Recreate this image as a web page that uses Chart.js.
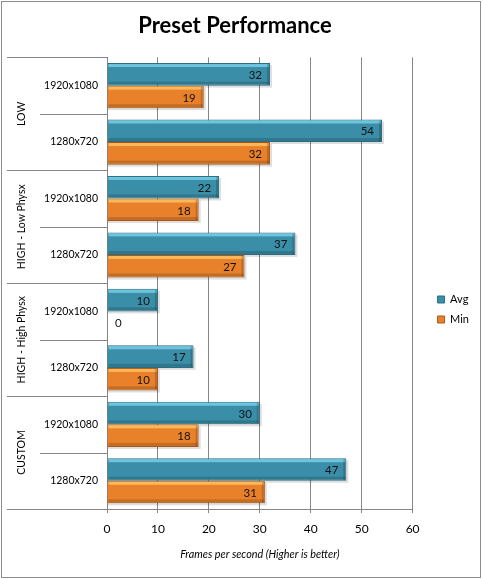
<!DOCTYPE html>
<html><head><meta charset="utf-8">
<script src="https://cdn.jsdelivr.net/npm/chart.js@4.4.1/dist/chart.umd.min.js"></script>
<style>html,body{margin:0;padding:0;background:#fff;}#wrap{position:relative;width:483px;height:579px;}</style>
</head><body><div id="wrap"><canvas id="c" width="483" height="579"></canvas></div>
<script>
const chartTitle = 'Preset Performance';
const axisTitle = 'Frames per second (Higher is better)';
const groups = ['LOW', 'HIGH - Low Physx', 'HIGH - High Physx', 'CUSTOM'];
const resolutions = ['1920x1080', '1280x720', '1920x1080', '1280x720', '1920x1080', '1280x720', '1920x1080', '1280x720'];
const avgValues = [32, 54, 22, 37, 10, 17, 30, 47];
const minValues = [19, 32, 18, 27, 0, 10, 18, 31];
const xTicks = [0, 10, 20, 30, 40, 50, 60];

const F = 'Lato, "Liberation Sans", sans-serif';
const LINE = '#868686';
const avgColor = '#3A8EA7', avgBorder = '#2B6F84', avgHi = 'rgba(120,205,230,0.85)';
const minColor = '#E9812A', minBorder = '#A9581A', minHi = 'rgba(252,190,95,0.9)';

const framePlugin = {
  id: 'frame',
  beforeDraw(chart) {
    const c = chart.ctx;
    c.save();
    c.fillStyle = '#fff';
    c.fillRect(0, 0, chart.width, chart.height);
    c.strokeStyle = '#8c8c8c';
    c.lineWidth = 1;
    c.strokeRect(1.5, 1.5, 479, 576);
    c.restore();
  }
};

const legendShift = {
  id: 'legendShift',
  afterLayout(chart) {
    const l = chart.legend;
    if (l) { l.left += 16; l.right += 16; l.top += 20; l.bottom += 20; }
  }
};

const barDeco = {
  id: 'barDeco',
  beforeDatasetsDraw(chart) {
    const c = chart.ctx;
    c.save();
    c.fillStyle = 'rgba(0,0,0,0.13)';
    chart.data.datasets.forEach((ds, di) => {
      chart.getDatasetMeta(di).data.forEach((bar) => {
        const p = bar.getProps(['x', 'y', 'base', 'height'], true);
        const w = p.x - p.base;
        if (w > 0) c.fillRect(p.base, p.y - p.height / 2 + 2, w + 2, p.height);
      });
    });
    c.restore();
  },
  afterDatasetsDraw(chart) {
    const c = chart.ctx;
    c.save();
    chart.data.datasets.forEach((ds, di) => {
      const hi = di === 0 ? avgHi : minHi;
      chart.getDatasetMeta(di).data.forEach((bar, i) => {
        const p = bar.getProps(['x', 'y', 'base', 'height'], true);
        const top = p.y - p.height / 2, w = p.x - p.base;
        if (w > 2) {
          c.fillStyle = hi;
          c.fillRect(p.base + 1, top + 1, w - 2, 3);
          c.fillStyle = 'rgba(0,0,0,0.16)';
          c.fillRect(p.base + 1, top + p.height - 4, w - 2, 3);
          c.fillStyle = 'rgba(0,0,0,0.18)';
          c.fillRect(p.x - 3, top + 1, 2, p.height - 2);
        }
        const v = ds.data[i];
        c.font = '11.5px ' + F;
        c.fillStyle = '#111';
        c.textBaseline = 'middle';
        if (w > 20) { c.textAlign = 'right'; c.fillText(String(v), p.x - 8, p.y + 1); }
        else { c.textAlign = 'left'; c.fillText(String(v), p.base + 8, p.y + 1); }
      });
    });
    c.restore();
  }
};

const groupPlugin = {
  id: 'groups',
  afterDraw(chart) {
    const c = chart.ctx, ys = chart.scales.y, left = chart.chartArea.left;
    const per = resolutions.length / groups.length;
    const step = ys.getPixelForValue(1) - ys.getPixelForValue(0);
    c.save();
    c.strokeStyle = LINE;
    c.lineWidth = 1;
    const hline = (y, x0) => { const yy = Math.round(y) + 0.5; c.beginPath(); c.moveTo(x0, yy); c.lineTo(left, yy); c.stroke(); };
    groups.forEach((g, gi) => {
      const top = ys.getPixelForValue(gi * per) - step / 2;
      hline(top, 7);
      for (let k = 1; k < per; k++) hline(top + step * k, 40);
      c.save();
      c.translate(22, top + step * per / 2);
      c.rotate(-Math.PI / 2);
      c.font = '10.5px ' + F;
      c.fillStyle = '#000';
      c.textAlign = 'center';
      c.textBaseline = 'middle';
      c.fillText(g, 0, 0);
      c.restore();
    });
    hline(ys.getPixelForValue(resolutions.length - 1) + step / 2, 7);
    c.restore();
  }
};

new Chart(document.getElementById('c'), {
  type: 'bar',
  data: {
    labels: resolutions,
    datasets: [
      { label: 'Avg', data: avgValues, backgroundColor: avgColor, borderColor: avgBorder, borderWidth: 1, borderSkipped: 'start' },
      { label: 'Min', data: minValues, backgroundColor: minColor, borderColor: minBorder, borderWidth: 1, borderSkipped: 'start' }
    ]
  },
  options: {
    indexAxis: 'y',
    responsive: false,
    animation: false,
    devicePixelRatio: 1,
    categoryPercentage: 0.8,
    barPercentage: 1.0,
    layout: { padding: { left: 7, right: 20, top: 0, bottom: 0 } },
    plugins: {
      title: { display: true, text: chartTitle, color: '#000', font: { family: F, size: 22, weight: 'bold' }, padding: { top: 13, bottom: 18 } },
      legend: {
        position: 'right',
        labels: { boxWidth: 7, boxHeight: 7, padding: 9, color: '#000', font: { family: F, size: 11 } }
      },
      tooltip: { enabled: false }
    },
    scales: {
      x: {
        type: 'linear', min: 0, max: 60,
        afterBuildTicks(s) { s.ticks = xTicks.map(v => ({ value: v })); },
        ticks: { color: '#000', font: { family: F, size: 12 }, padding: 9 },
        grid: { color: LINE, tickLength: 4, drawTicks: true },
        border: { display: true, color: LINE },
        title: { display: true, text: axisTitle, color: '#000', font: { family: F, size: 10.8, style: 'italic' }, padding: { top: 4, bottom: 18 } },
        afterFit(s) { s.height = 70; }
      },
      y: {
        type: 'category', offset: true,
        grid: { display: false, drawTicks: false },
        border: { display: true, color: LINE },
        ticks: { color: '#000', font: { family: F, size: 10.5 }, padding: 9, autoSkip: false },
        afterFit(s) { s.width = 100; }
      }
    }
  },
  plugins: [framePlugin, legendShift, barDeco, groupPlugin]
});
</script></body></html>
